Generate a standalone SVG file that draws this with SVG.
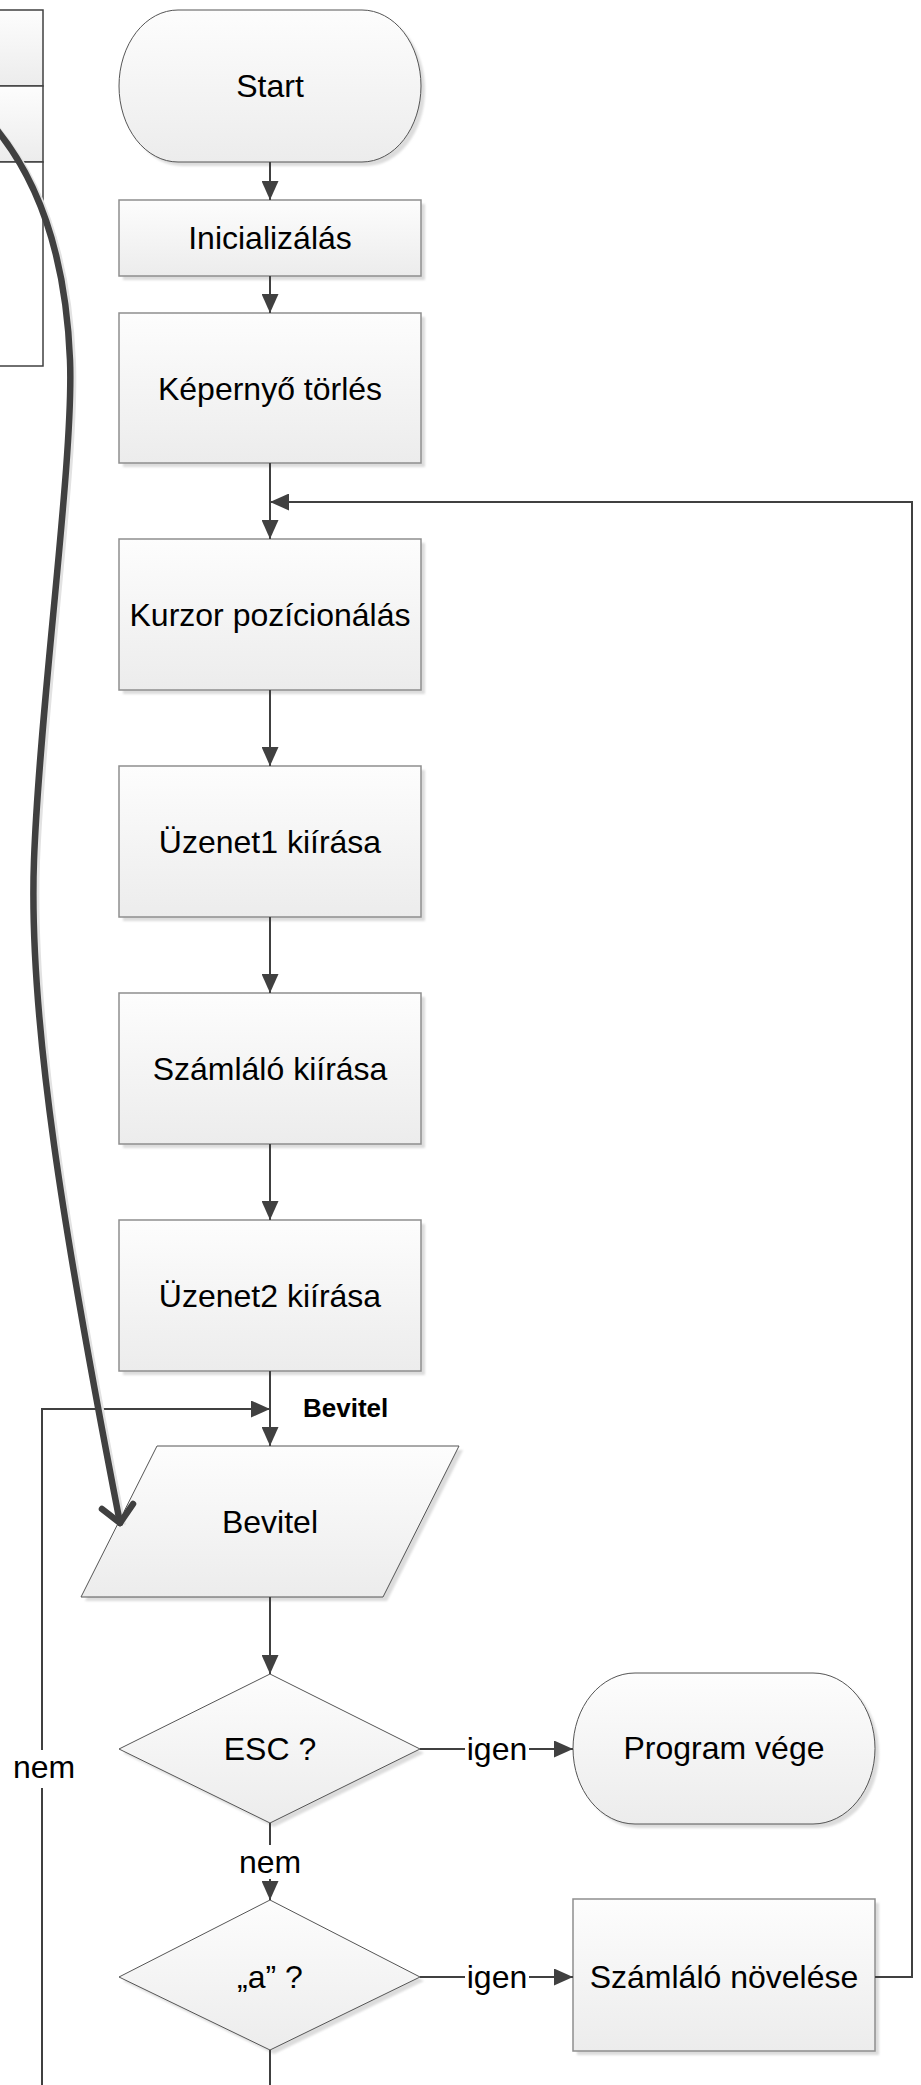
<svg xmlns="http://www.w3.org/2000/svg" width="921" height="2085" viewBox="0 0 921 2085">
<defs>
<linearGradient id="g" x1="0" y1="0" x2="0" y2="1">
<stop offset="0" stop-color="#fdfdfd"/>
<stop offset="1" stop-color="#ececec"/>
</linearGradient>
<filter id="sh" x="-10%" y="-10%" width="130%" height="130%">
<feGaussianBlur stdDeviation="1.2"/>
</filter>
<marker id="ah" markerUnits="userSpaceOnUse" markerWidth="19" markerHeight="17" refX="19" refY="8.5" orient="auto">
<path d="M0,0 L19,8.5 L0,17 Z" fill="#404040"/>
</marker>
</defs>
<style>
.t{font-family:"Liberation Sans",Arial,sans-serif;font-size:32px;fill:#000;text-anchor:middle}
.lb{font-family:"Liberation Sans",Arial,sans-serif;font-size:26px;font-weight:bold;fill:#000}
.proc{fill:url(#g);stroke:#8e8e8e;stroke-width:1.5}
.thin{fill:url(#g);stroke:#555;stroke-width:1}
.shd{fill:#dcdcdc;stroke:none;filter:url(#sh)}
.c{fill:none;stroke:#404040;stroke-width:2}
.ca{fill:none;stroke:#404040;stroke-width:2;marker-end:url(#ah)}
.tbl{stroke:#404040;stroke-width:1.5}
</style>
<rect width="921" height="2085" fill="#fff"/>

<g id="table">
<rect class="tbl" x="-5" y="10" width="48" height="76" fill="url(#g)"/>
<rect class="tbl" x="-5" y="86" width="48" height="76" fill="url(#g)"/>
<rect class="tbl" x="-5" y="162" width="48" height="204" fill="#fff"/>
</g>

<g id="start">
<rect class="shd" x="123" y="14" width="302" height="152" rx="59" ry="76"/>
<rect class="thin" x="119" y="10" width="302" height="152" rx="59" ry="76"/>
<text class="t" x="270" y="97">Start</text>
</g>
<g id="init">
<rect class="shd" x="123" y="204" width="302" height="76"/>
<rect class="proc" x="119" y="200" width="302" height="76"/>
<text class="t" x="270" y="249">Inicializálás</text>
</g>
<g id="torles">
<rect class="shd" x="123" y="317" width="302" height="150"/>
<rect class="proc" x="119" y="313" width="302" height="150"/>
<text class="t" x="270" y="400">Képernyő törlés</text>
</g>
<g id="kurzor">
<rect class="shd" x="123" y="543" width="302" height="151"/>
<rect class="proc" x="119" y="539" width="302" height="151"/>
<text class="t" x="270" y="626">Kurzor pozícionálás</text>
</g>
<g id="uzenet1">
<rect class="shd" x="123" y="770" width="302" height="151"/>
<rect class="proc" x="119" y="766" width="302" height="151"/>
<text class="t" x="270" y="853">Üzenet1 kiírása</text>
</g>
<g id="szamlalo">
<rect class="shd" x="123" y="997" width="302" height="151"/>
<rect class="proc" x="119" y="993" width="302" height="151"/>
<text class="t" x="270" y="1080">Számláló kiírása</text>
</g>
<g id="uzenet2">
<rect class="shd" x="123" y="1224" width="302" height="151"/>
<rect class="proc" x="119" y="1220" width="302" height="151"/>
<text class="t" x="270" y="1307">Üzenet2 kiírása</text>
</g>
<g id="bevitel">
<polygon class="shd" points="161,1450 463,1450 387,1601 85,1601"/>
<polygon class="thin" points="157,1446 459,1446 383,1597 81,1597"/>
<text class="t" x="270" y="1533">Bevitel</text>
</g>
<g id="esc">
<polygon class="shd" points="274,1678 424,1753 274,1827 123,1753"/>
<polygon class="thin" points="270,1674 420,1749 270,1823 119,1749"/>
<text class="t" x="270" y="1760">ESC ?</text>
</g>
<g id="vege">
<rect class="shd" x="577" y="1677" width="302" height="151" rx="62" ry="75.5"/>
<rect class="thin" x="573" y="1673" width="302" height="151" rx="62" ry="75.5"/>
<text class="t" x="724" y="1759">Program vége</text>
</g>
<g id="a">
<polygon class="shd" points="274,1904 424,1981 274,2054 123,1981"/>
<polygon class="thin" points="270,1900 420,1977 270,2050 119,1977"/>
<text class="t" x="270" y="1988">„a” ?</text>
</g>
<g id="novel">
<rect class="shd" x="577" y="1903" width="302" height="152"/>
<rect class="proc" x="573" y="1899" width="302" height="152"/>
<text class="t" x="724" y="1988">Számláló növelése</text>
</g>

<g id="connectors">
<path class="ca" d="M270,162 V200"/>
<path class="ca" d="M270,276 V313"/>
<path class="ca" d="M270,463 V539"/>
<path class="ca" d="M875,1977 H912 V502 H270"/>
<path class="ca" d="M270,690 V766"/>
<path class="ca" d="M270,917 V993"/>
<path class="ca" d="M270,1144 V1220"/>
<path class="ca" d="M270,1371 V1446"/>
<path class="ca" d="M270,1597 V1674"/>
<path class="ca" d="M420,1749 H573"/>
<path class="ca" d="M270,1823 V1900"/>
<path class="ca" d="M420,1977 H573"/>
<path class="c" d="M270,2050 V2090"/>
<path class="ca" d="M42,2090 V1409 H270"/>
<rect x="465" y="1732" width="64" height="36" fill="#fff"/>
<text class="t" x="497" y="1760">igen</text>
<rect x="465" y="1960" width="64" height="36" fill="#fff"/>
<text class="t" x="497" y="1988">igen</text>
<rect x="238" y="1845" width="64" height="34" fill="#fff"/>
<text class="t" x="270" y="1873">nem</text>
<rect x="12" y="1750" width="64" height="38" fill="#fff"/>
<text class="t" x="44" y="1778">nem</text>
<text class="lb" x="303" y="1417">Bevitel</text>
</g>

<g id="curve">
<path d="M-8,124 C40,180 66,260 70,360 C74,460 40,700 34,860 C28,1020 65,1240 120,1523" fill="none" stroke="#e2e2e2" stroke-width="6" transform="translate(3,2)"/>
<path d="M-8,124 C40,180 66,260 70,360 C74,460 40,700 34,860 C28,1020 65,1240 120,1523" fill="none" stroke="#404040" stroke-width="6.5" stroke-linecap="round"/>
<path d="M102,1509 L120,1523 L133,1504" fill="none" stroke="#404040" stroke-width="6.5" stroke-linecap="round" stroke-linejoin="round"/>
</g>
</svg>
